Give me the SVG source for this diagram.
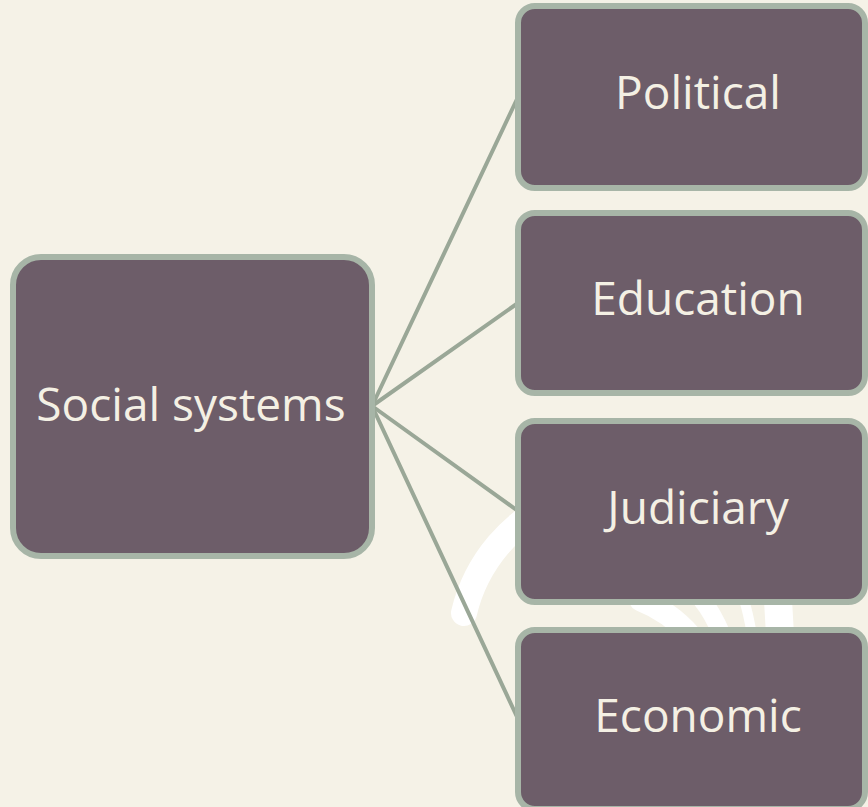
<svg xmlns="http://www.w3.org/2000/svg" width="868" height="807" viewBox="0 0 868 807">
<style>
.bg{fill:#F5F2E7}
.deco{fill:none;stroke:#FFFFFF;stroke-linecap:round}
.box{fill:#6D5D69;stroke:#A7B5A7;stroke-width:6}
.conn{stroke:#9AA797;stroke-width:4;fill:none;stroke-linecap:round}
.lbl{font-family:"Open Sans","Noto Sans",sans-serif;font-size:46px;fill:#F4F0E4;text-anchor:middle}
</style>
<rect class="bg" x="0" y="0" width="868" height="807"/>
<g id="decoration">
<path class="deco" stroke-width="26" d="M 464 613 A 163 163 0 0 1 560 500"/>
<path class="deco" stroke-width="22" d="M 640 600 Q 670 612 690 635"/>
<path class="deco" stroke-width="18" d="M 702 600 Q 712 612 722 635"/>
<path class="deco" stroke-width="10" d="M 744 600 Q 748 612 752 635"/>
<path class="deco" stroke-width="28" d="M 778 600 L 780 635"/>
</g>
<g id="connectors">
<line class="conn" x1="372" y1="406" x2="518" y2="97"/>
<line class="conn" x1="372" y1="406" x2="518" y2="303"/>
<line class="conn" x1="372" y1="406" x2="518" y2="511"/>
<line class="conn" x1="372" y1="406" x2="518" y2="719"/>
</g>
<g id="social-systems">
<rect class="box" x="13" y="257" width="359" height="299" rx="28"/>
<text class="lbl" x="191" y="421" font-size="49">Social systems</text>
</g>
<g id="political">
<rect class="box" x="518" y="6" width="347" height="182" rx="17"/>
<text class="lbl" x="698" y="109">Political</text>
</g>
<g id="education">
<rect class="box" x="518" y="213" width="347" height="180" rx="17"/>
<text class="lbl" x="698" y="315">Education</text>
</g>
<g id="judiciary">
<rect class="box" x="518" y="421" width="347" height="181" rx="17"/>
<text class="lbl" x="698" y="524">Judiciary</text>
</g>
<g id="economic">
<rect class="box" x="518" y="630" width="347" height="179" rx="17"/>
<text class="lbl" x="698" y="732">Economic</text>
</g>
</svg>
